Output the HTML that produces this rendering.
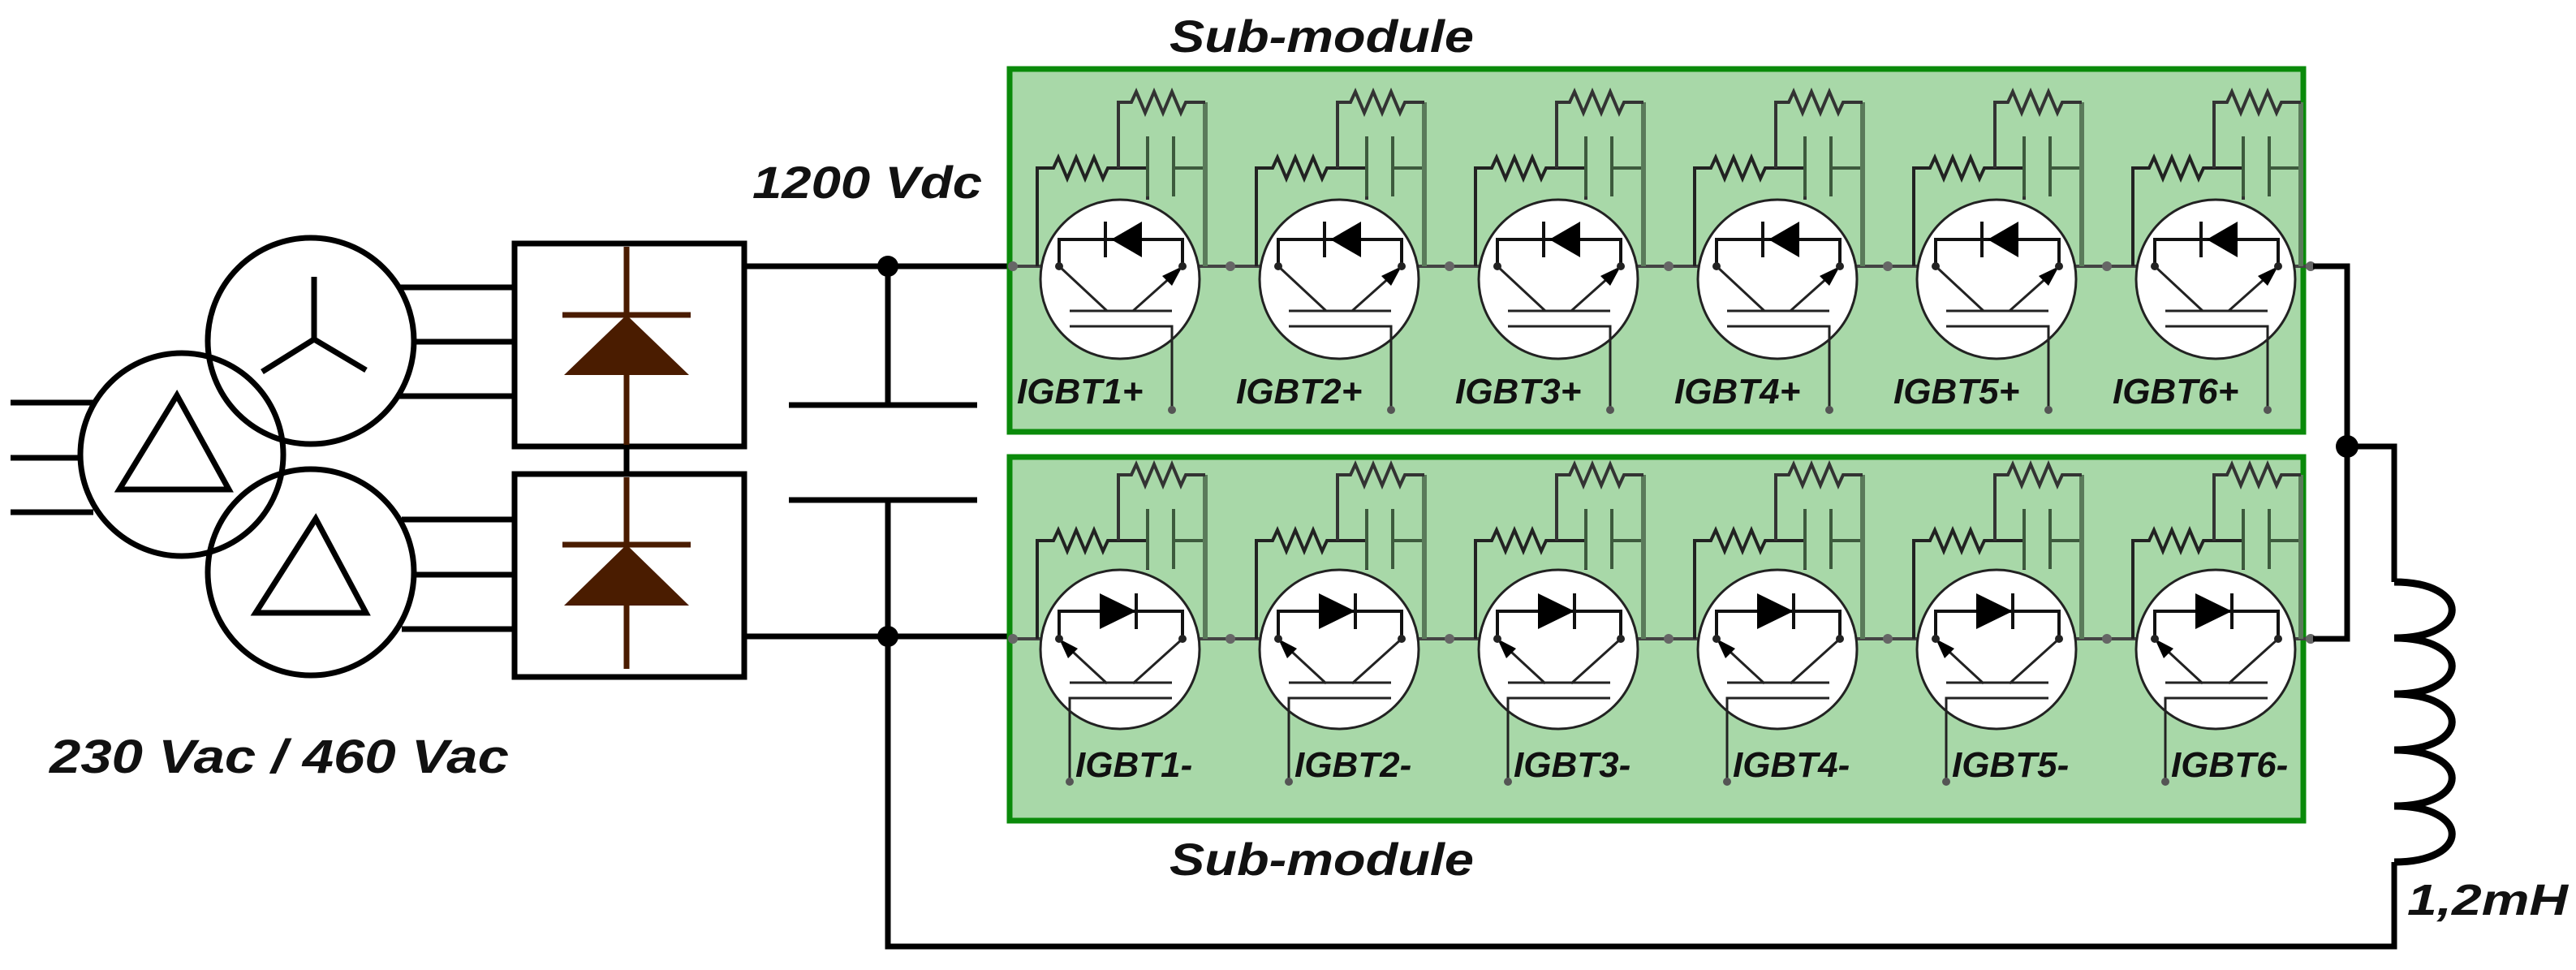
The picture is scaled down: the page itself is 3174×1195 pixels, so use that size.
<!DOCTYPE html>
<html><head><meta charset="utf-8"><style>
html,body{margin:0;padding:0;background:#fff;}
svg{display:block;}
text{font-family:"Liberation Sans",sans-serif;font-style:italic;font-weight:bold;fill:#111;}
</style></head><body>
<svg width="3174" height="1195" viewBox="0 0 3174 1195" xmlns="http://www.w3.org/2000/svg">
<defs>
<g id="snub" fill="none" stroke="#3d5a3d" stroke-width="4">
  <path d="M-102,0 V-121 H-82 l6,-13 l11,26 l11,-26 l11,26 l11,-26 l11,26 l6,-13 H34" stroke="#222"/>
  <path d="M34,-160 V-86"/>
  <path d="M66,-160 V-86"/>
  <path d="M66,-121 H105"/>
  <path d="M105,-202 V0" stroke="#5a7a5a" stroke-width="6"/>
  <path d="M-2,-121 V-202 H14 l6,-13 l11,26 l11,-26 l11,26 l11,-26 l11,26 l6,-13 H105" stroke="#333"/>
</g>
<g id="cellTop">
  <use href="#snub"/>
  <circle cx="0" cy="16" r="98" fill="#fff" stroke="#222" stroke-width="3"/>
  <path d="M34,-86 V-82" stroke="#333" stroke-width="4"/>
  <path d="M-75,0 V-33 H77 V0" fill="none" stroke="#111" stroke-width="4"/>
  <path d="M-18,-55 V-11" stroke="#111" stroke-width="4"/>
  <polygon points="-11,-33 27,-55 27,-11" fill="#000"/>
  <path d="M-75,0 L-16,55 M-62,55 H64 M16,55 L72,5 M-62,74 H64 V177" fill="none" stroke="#222" stroke-width="3"/>
  <polygon points="77,0 52,12 64,24" fill="#000"/>
  <circle cx="-75" cy="0" r="5" fill="#222"/><circle cx="77" cy="0" r="5" fill="#222"/>
  <circle cx="64" cy="177" r="5" fill="#555"/>
</g>
<g id="cellBot">
  <use href="#snub"/>
  <circle cx="0" cy="13" r="98" fill="#fff" stroke="#222" stroke-width="3"/>
  <path d="M34,-86 V-85" stroke="#333" stroke-width="4"/>
  <path d="M-75,0 V-34 H77 V0" fill="none" stroke="#111" stroke-width="4"/>
  <polygon points="-25,-56 -25,-12 20,-34" fill="#000"/>
  <path d="M20,-56 V-12" stroke="#111" stroke-width="4"/>
  <path d="M-16,55 L-70,5 M-62,54 H64 M16,55 L77,0 M64,73 H-62 V176" fill="none" stroke="#222" stroke-width="3"/>
  <polygon points="-75,0 -64,24 -52,12" fill="#000"/>
  <circle cx="-75" cy="0" r="5" fill="#222"/><circle cx="77" cy="0" r="5" fill="#222"/>
  <circle cx="-62" cy="176" r="5" fill="#555"/>
</g>
</defs>

<g stroke="#000" stroke-width="7" fill="none">
  <path d="M13,496 H115 M13,564 H102 M13,631 H115"/>
  <circle cx="224" cy="560" r="125"/>
  <circle cx="383" cy="420" r="127"/>
  <circle cx="383" cy="705" r="127"/>
  <path d="M387,341 V418 M387,418 L323,458 M387,418 L451,456"/>
  <path d="M218,487 L147,603 H282 Z"/>
  <path d="M389,639 L315,755 H451 Z"/>
  <path d="M490,354 H634 M510,421 H634 M490,488 H634"/>
  <path d="M495,640 H634 M510,708 H634 M495,775 H634"/>
  <rect x="634" y="300" width="283" height="250"/>
  <rect x="634" y="584" width="283" height="250"/>
  <path d="M772,550 V584"/>
  <path d="M917,328 H1244 M917,784 H1244"/>
  <path d="M1094,328 V499 M972,499 H1204 M972,616 H1204 M1094,616 V1166 H2950 V1062"/>
</g>
<circle cx="1094" cy="328" r="13" fill="#000"/>
<circle cx="1094" cy="784" r="13" fill="#000"/>
<g stroke="#4a1c00" stroke-width="7" fill="#4a1c00">
  <path d="M772,304 V548 M772,588 V824" fill="none"/>
  <path d="M693,388 H851 M693,671 H851" fill="none"/>
  <polygon points="772,388 695,462 849,462" stroke="none"/>
  <polygon points="772,671 695,746 849,746" stroke="none"/>
</g>

<rect x="1244" y="85" width="1594" height="447" fill="#a8d8a8" stroke="#0a8a0a" stroke-width="7"/>
<rect x="1244" y="563" width="1594" height="448" fill="#a8d8a8" stroke="#0a8a0a" stroke-width="7"/>
<path d="M1244,328 H2892 M1244,787 H2892" stroke="#444" stroke-width="4"/>

<g>
<use href="#cellTop" transform="translate(1380,328)"/>
<use href="#cellTop" transform="translate(1650,328)"/>
<use href="#cellTop" transform="translate(1920,328)"/>
<use href="#cellTop" transform="translate(2190,328)"/>
<use href="#cellTop" transform="translate(2460,328)"/>
<use href="#cellTop" transform="translate(2730,328)"/>
<use href="#cellBot" transform="translate(1380,787)"/>
<use href="#cellBot" transform="translate(1650,787)"/>
<use href="#cellBot" transform="translate(1920,787)"/>
<use href="#cellBot" transform="translate(2190,787)"/>
<use href="#cellBot" transform="translate(2460,787)"/>
<use href="#cellBot" transform="translate(2730,787)"/>
</g>
<g fill="#666">
  <circle cx="1248" cy="328" r="6"/><circle cx="1516" cy="328" r="6"/><circle cx="1786" cy="328" r="6"/><circle cx="2056" cy="328" r="6"/><circle cx="2326" cy="328" r="6"/><circle cx="2596" cy="328" r="6"/><circle cx="2847" cy="328" r="6"/>
  <circle cx="1248" cy="787" r="6"/><circle cx="1516" cy="787" r="6"/><circle cx="1786" cy="787" r="6"/><circle cx="2056" cy="787" r="6"/><circle cx="2326" cy="787" r="6"/><circle cx="2596" cy="787" r="6"/><circle cx="2847" cy="787" r="6"/>
</g>

<g stroke="#000" stroke-width="7" fill="none">
  <path d="M2850,328 H2892 V787 H2850"/>
  <path d="M2892,550 H2950 V717"/>
  <path d="M2950,717 C3045,717 3045,786 2950,786 C3045,786 3045,855 2950,855 C3045,855 3045,924 2950,924 C3045,924 3045,993 2950,993 C3045,993 3045,1062 2950,1062" stroke-width="9"/>
</g>
<circle cx="2892" cy="550" r="14" fill="#000"/>

<g font-size="44">
<text x="1253" y="497">IGBT1+</text>
<text x="1523" y="497">IGBT2+</text>
<text x="1793" y="497">IGBT3+</text>
<text x="2063" y="497">IGBT4+</text>
<text x="2333" y="497">IGBT5+</text>
<text x="2603" y="497">IGBT6+</text>
<text x="1325" y="957">IGBT1-</text>
<text x="1595" y="957">IGBT2-</text>
<text x="1865" y="957">IGBT3-</text>
<text x="2135" y="957">IGBT4-</text>
<text x="2405" y="957">IGBT5-</text>
<text x="2675" y="957">IGBT6-</text>
</g>
<text x="1441" y="64" font-size="56" textLength="375" lengthAdjust="spacingAndGlyphs">Sub-module</text>
<text x="1441" y="1078" font-size="56" textLength="375" lengthAdjust="spacingAndGlyphs">Sub-module</text>
<text x="927" y="244" font-size="56" textLength="283" lengthAdjust="spacingAndGlyphs">1200 Vdc</text>
<text x="61" y="952" font-size="58" textLength="566" lengthAdjust="spacingAndGlyphs">230 Vac / 460 Vac</text>
<text x="2966" y="1127" font-size="54" textLength="198" lengthAdjust="spacingAndGlyphs">1,2mH</text>
</svg>
</body></html>
